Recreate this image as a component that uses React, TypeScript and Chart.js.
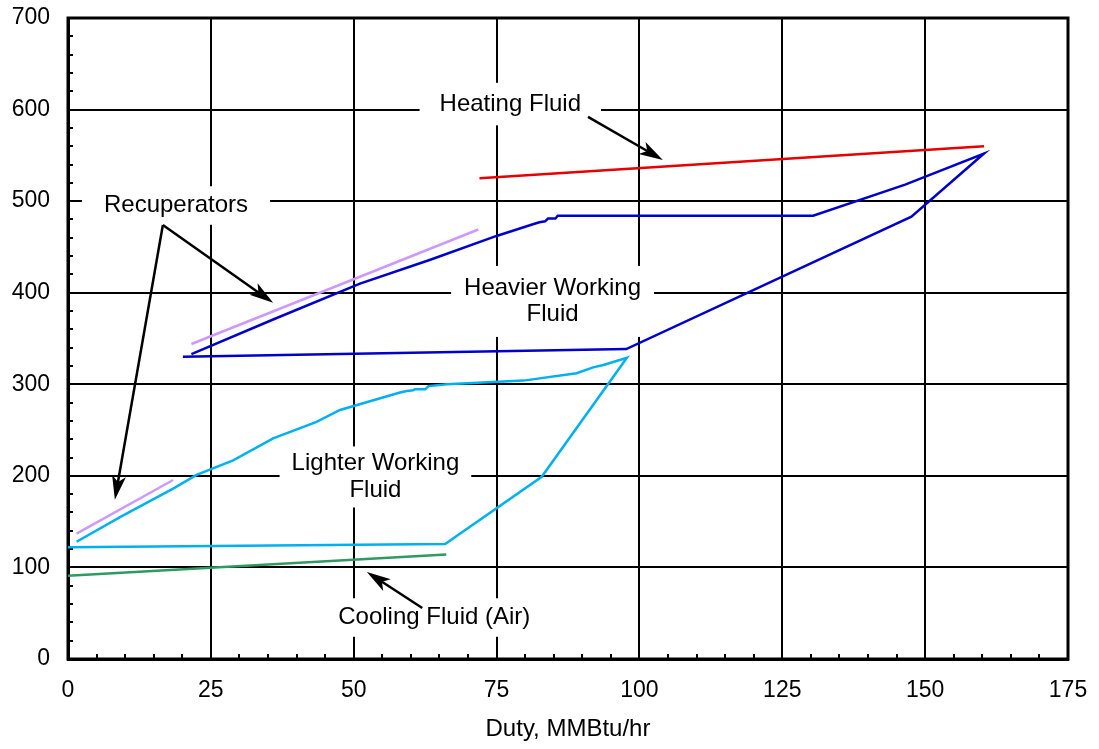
import React, { useEffect, useRef } from "react";
import { Chart, registerables } from "chart.js";

Chart.register(...registerables);

const FONT = '"Liberation Sans", Arial, Helvetica, sans-serif';

// Axis ticks
const xTicks = [0, 25, 50, 75, 100, 125, 150, 175];
const yTicks = [0, 100, 200, 300, 400, 500, 600, 700];

// Heating fluid
const heatingX = [72, 160.3];
const heatingY = [525, 560];

// Heavier working fluid (closed loop)
const heavierX = [20.1, 97.7, 147.6, 160.3, 146.5, 130.4, 85.7, 85.3, 84.0, 83.5, 82.5, 81.5, 75.0, 63.4, 51.1, 36.0, 21.6];
const heavierY = [330, 338.5, 483, 552, 518, 484, 484, 481, 481, 478, 477, 475, 462, 436, 410, 371, 333];

// Lighter working fluid (closed loop)
const lighterX = [0, 66.0, 82.9, 97.8, 93.7, 91.9, 89.0, 79.7, 66.3, 63.1, 62.5, 60.7, 60.4, 59.3, 58.1, 47.6, 43.5, 35.9, 28.9, 22.5, 18.4, 9.1, 1.5];
const lighterY = [122, 125.6, 199, 329, 321, 318.5, 312, 304, 300, 298, 294.5, 294.5, 293.5, 292.7, 291, 272, 259, 241, 217, 201, 186, 155, 128];

// Cooling fluid (air)
const coolingX = [0, 66.2];
const coolingY = [91, 114];

// Recuperator reference lines
const recupUpperX = [21.6, 71.8];
const recupUpperY = [344, 469];
const recupLowerX = [1.5, 18.4];
const recupLowerY = [137, 195.5];

// Annotations (data coordinates of text-block centres)
const annotationTexts = [["Heating Fluid"], ["Recuperators"], ["Heavier Working", "Fluid"], ["Lighter Working", "Fluid"], ["Cooling Fluid (Air)"]];
const annotationX = [77.4, 18.9, 84.8, 53.8, 64.1];
const annotationY = [606, 495.2, 390.5, 198.8, 45.3];
const annotationPadX = [20, 22, 13, 12, 14];
const annotationPadY = [8, 6, 9, 4, 6];

// Arrows (data coordinates)
const arrowFromX = [91.0, 16.6, 16.6, 62.0];
const arrowFromY = [592, 474, 474, 55.7];
const arrowToX = [104.1, 35.9, 8.2, 52.3];
const arrowToY = [545, 389, 174, 95];

const pts = (xs: number[], ys: number[]) => xs.map((x, i) => ({ x, y: ys[i] }));

const overlayPlugin = {
  id: "overlay",
  beforeDatasetsDraw(chart: any) {
    const { ctx, chartArea, scales } = chart;
    const x = scales.x;
    const y = scales.y;
    ctx.save();
    // minor ticks
    ctx.strokeStyle = "#000";
    ctx.lineWidth = 2;
    for (let v = 5; v < 175; v += 5) {
      if (v % 25 === 0) continue;
      const px = Math.round(x.getPixelForValue(v));
      ctx.beginPath();
      ctx.moveTo(px, chartArea.bottom);
      ctx.lineTo(px, chartArea.bottom - 5);
      ctx.stroke();
    }
    for (let v = 20; v < 700; v += 20) {
      if (v % 100 === 0) continue;
      const py = Math.round(y.getPixelForValue(v));
      ctx.beginPath();
      ctx.moveTo(chartArea.left, py);
      ctx.lineTo(chartArea.left + 5, py);
      ctx.stroke();
    }
    // frame
    ctx.lineWidth = 3;
    ctx.strokeRect(chartArea.left, chartArea.top, chartArea.right - chartArea.left, chartArea.bottom - chartArea.top);
    // white boxes behind annotations
    ctx.font = `24px ${FONT}`;
    const lh = 26.5;
    annotationTexts.forEach((lines, i) => {
      const cx = x.getPixelForValue(annotationX[i]);
      const cy = y.getPixelForValue(annotationY[i]);
      const w = Math.max(...lines.map((l) => ctx.measureText(l).width));
      const h = lines.length * lh;
      ctx.fillStyle = "#fff";
      ctx.fillRect(cx - w / 2 - annotationPadX[i], cy - h / 2 - annotationPadY[i], w + 2 * annotationPadX[i], h + 2 * annotationPadY[i]);
    });
    ctx.restore();
  },
  afterDatasetsDraw(chart: any) {
    const { ctx, scales } = chart;
    const x = scales.x;
    const y = scales.y;
    ctx.save();
    ctx.font = `24px ${FONT}`;
    ctx.fillStyle = "#000";
    ctx.textAlign = "center";
    ctx.textBaseline = "middle";
    const lh = 26.5;
    annotationTexts.forEach((lines, i) => {
      const cx = x.getPixelForValue(annotationX[i]);
      const cy = y.getPixelForValue(annotationY[i]);
      lines.forEach((l, j) => {
        ctx.fillText(l, cx, cy - ((lines.length - 1) * lh) / 2 + j * lh);
      });
    });
    // arrows
    ctx.strokeStyle = "#000";
    ctx.lineWidth = 2.5;
    arrowFromX.forEach((_, i) => {
      const x0 = x.getPixelForValue(arrowFromX[i]);
      const y0 = y.getPixelForValue(arrowFromY[i]);
      const x1 = x.getPixelForValue(arrowToX[i]);
      const y1 = y.getPixelForValue(arrowToY[i]);
      const ang = Math.atan2(y1 - y0, x1 - x0);
      const len = 24;
      const hw = 7;
      const notch = 6;
      const bx = x1 - Math.cos(ang) * len;
      const by = y1 - Math.sin(ang) * len;
      const nx = x1 - Math.cos(ang) * (len - notch);
      const ny = y1 - Math.sin(ang) * (len - notch);
      ctx.beginPath();
      ctx.moveTo(x0, y0);
      ctx.lineTo(nx, ny);
      ctx.stroke();
      ctx.beginPath();
      ctx.moveTo(x1, y1);
      ctx.lineTo(bx - Math.sin(ang) * hw, by + Math.cos(ang) * hw);
      ctx.lineTo(nx, ny);
      ctx.lineTo(bx + Math.sin(ang) * hw, by - Math.cos(ang) * hw);
      ctx.closePath();
      ctx.fillStyle = "#000";
      ctx.fill();
    });
    ctx.restore();
  },
};

export default function App() {
  const ref = useRef<HTMLCanvasElement>(null);
  useEffect(() => {
    if (!ref.current) return;
    const lineDs = (data: any, color: string) => ({
      data,
      borderColor: color,
      backgroundColor: color,
      borderWidth: 2.5,
      pointRadius: 0,
      showLine: true,
      tension: 0,
      fill: false,
    });
    const chart = new Chart(ref.current, {
      type: "scatter",
      data: {
        datasets: [
          lineDs(pts(coolingX, coolingY), "#2e9a62"),
          lineDs(pts(recupLowerX, recupLowerY), "#cc99ff"),
          lineDs(pts(recupUpperX, recupUpperY), "#cc99ff"),
          lineDs(pts(lighterX, lighterY), "#00b0f0"),
          lineDs(pts(heavierX, heavierY), "#0000cc"),
          lineDs(pts(heatingX, heatingY), "#e60000"),
        ],
      },
      options: {
        animation: false,
        responsive: false,
        maintainAspectRatio: false,
        layout: { padding: { top: 18, right: 31, left: 0, bottom: 0 } },
        plugins: { legend: { display: false }, tooltip: { enabled: false } },
        scales: {
          x: {
            type: "linear",
            min: 0,
            max: 175,
            afterBuildTicks: (s: any) => {
              s.ticks = xTicks.map((v) => ({ value: v }));
            },
            afterFit: (s: any) => {
              s.height = 90;
              s.paddingLeft = 0;
              s.paddingRight = 0;
            },
            grid: { color: "#000", lineWidth: 2, drawTicks: false },
            border: { color: "#000", width: 3 },
            ticks: { color: "#000", font: { family: FONT, size: 23 }, padding: 18, maxRotation: 0, autoSkip: false },
            title: { display: true, text: "Duty, MMBtu/hr", color: "#000", font: { family: FONT, size: 24 }, padding: { top: 4, bottom: 5 } },
          },
          y: {
            type: "linear",
            min: 0,
            max: 700,
            afterBuildTicks: (s: any) => {
              s.ticks = yTicks.map((v) => ({ value: v }));
            },
            afterFit: (s: any) => {
              s.width = 68;
              s.paddingTop = 0;
              s.paddingBottom = 0;
            },
            grid: { color: "#000", lineWidth: 2, drawTicks: false },
            border: { color: "#000", width: 3 },
            ticks: { color: "#000", font: { family: FONT, size: 23 }, padding: 18, autoSkip: false },
          },
        },
      },
      plugins: [overlayPlugin],
    });
    return () => chart.destroy();
  }, []);
  return (
    <div style={{ position: "fixed", left: 0, top: 0, width: 1099, height: 749, background: "#fff" }}>
      <canvas ref={ref} width={1099} height={749} style={{ display: "block" }} />
    </div>
  );
}
